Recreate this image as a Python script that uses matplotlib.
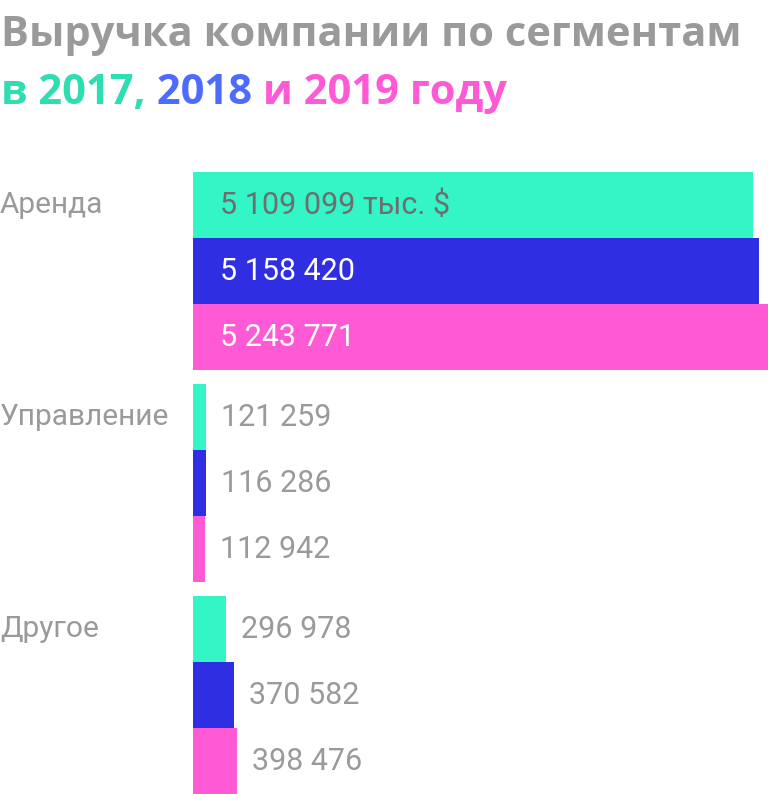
import matplotlib.pyplot as plt
import numpy as np

plt.rcParams['font.family'] = ['Roboto', 'DejaVu Sans']

# Данные: выручка по сегментам, тыс. $
segments = ["Аренда", "Управление", "Другое"]
years = ["2017", "2018", "2019"]
v2017 = [5109099, 121259, 296978]
v2018 = [5158420, 116286, 370582]
v2019 = [5243771, 112942, 398476]

bar_colors = ["#33F5C6", "#2F2EE2", "#FF5AD6"]
title_colors = ["#2EDDB0", "#4D6BFF", "#FF5AD6"]
gray = "#9A9A9A"

W, H = 768, 794
fig = plt.figure(figsize=(W / 100, H / 100), dpi=100)
ax = fig.add_axes([193 / W, 0, 575 / W, 622 / H])

bar_h = 1.0
gap = 14 / 66
step = 3 * bar_h + gap
series = [v2017, v2018, v2019]

for g, seg in enumerate(segments):
    for j, vals in enumerate(series):
        y = g * step + j * bar_h + bar_h / 2
        v = vals[g]
        ax.barh(y, v, height=bar_h, color=bar_colors[j], linewidth=0)
        txt = f"{v:,}".replace(",", " ")
        if v > 1000000:
            if g == 0 and j == 0:
                txt += " тыс. $"
            col = "#6E6E6E" if j == 0 else "white"
            ax.annotate(txt, xy=(0, y), xytext=(27 * 0.72, 0), textcoords="offset points",
                        va="center", ha="left", fontsize=22, color=col)
        else:
            ax.annotate(txt, xy=(v, y), xytext=(15 * 0.72, 0), textcoords="offset points",
                        va="center", ha="left", fontsize=22, color=gray)
    # подпись сегмента
    ax.annotate(seg, xy=(0, g * step + bar_h / 2), xycoords=("figure fraction", "data"),
                xytext=(0, 0), textcoords="offset points",
                va="center", ha="left", fontsize=21.5, color=gray)

ax.set_xlim(0, max(v2019))
ax.set_ylim(3 * step - gap, 0)
ax.axis("off")

# Заголовок
tfont = dict(family=["Open Sans", "DejaVu Sans"], fontsize=30, fontweight="bold")
fig.text(1 / W, 1 - 46 / H, "Выручка компании по сегментам", color=gray,
         va="baseline", ha="left", **tfont)

parts = [("в 2017,", title_colors[0]), (" 2018", title_colors[1]), (" и 2019 году", title_colors[2])]
fig.canvas.draw()
r = fig.canvas.get_renderer()
x = 1 / W
for s, c in parts:
    t = fig.text(x, 1 - 104 / H, s, color=c, va="baseline", ha="left", **tfont)
    bb = t.get_window_extent(renderer=r)
    x = bb.x1 / W

fig.savefig("out.png", dpi=100)
